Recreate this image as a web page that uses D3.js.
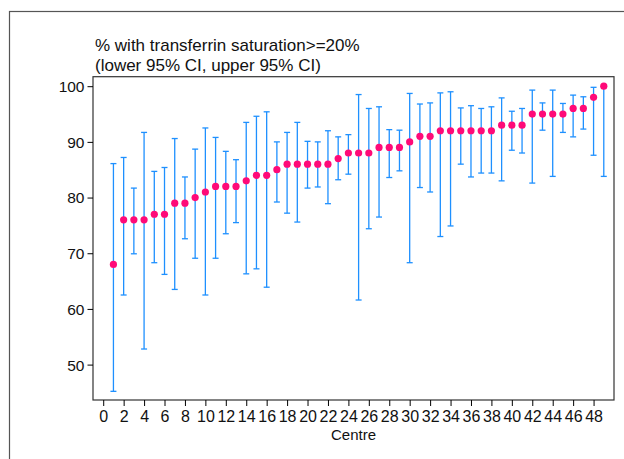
<!DOCTYPE html>
<html>
<head>
<meta charset="utf-8">
<script src="https://cdn.jsdelivr.net/npm/d3@7"></script>
<style>
  body { margin: 0; background: #fff; }
  svg text { font-family: "Liberation Sans", Arial, sans-serif; fill: #111; }
</style>
</head>
<body>
<div id="chart"></div>
<script>
// centre numbers, estimate and 95% CI bounds
let centres = d3.range(1, 50)
let pct = [68,76,76,76,77,77,79,79,80,81,82,82,82,83,84,84,85,86,86,86,86,86,87,88,88,88,89,89,89,90,
           91,91,92,92,92,92,92,92,93,93,93,95,95,95,95,96,96,98,100]
let lower = [45.2,62.5,69.9,52.8,68.3,66.2,63.5,72.6,69.1,62.5,69.1,73.5,75.5,66.3,67.2,63.9,79.2,77.2,75.6,81.7,
             81.9,78.9,83.2,84.2,61.6,74.4,76.5,83.6,84.8,68.3,81.8,81.0,73.0,74.9,86.0,83.7,84.4,84.4,83.0,88.5,
             88.0,82.6,92.1,83.8,91.7,90.9,92.3,87.6,83.8]
let upper = [86.1,87.2,81.7,91.7,84.7,85.4,90.6,83.7,88.7,92.5,90.8,88.3,86.8,93.5,94.6,95.4,90.0,91.7,93.5,90.1,
             90.0,92.0,90.9,91.3,98.5,96.0,96.3,92.2,92.1,98.7,96.8,97.0,98.8,99.0,96.1,96.5,96.0,96.3,97.9,95.5,
             96.0,99.3,97.0,99.3,96.9,98.4,98.1,99.8,100]
let xTicks = d3.range(0, 50, 2)
let yTicks = [50, 60, 70, 80, 90, 100]

let width = 624, height = 459
let box = { left: 93, right: 614, top: 76.7, bottom: 400 }

let svg = d3.select("#chart").append("svg")
    .attr("width", width)
    .attr("height", height)

let x = d3.scaleLinear().domain([-1, 50]).range([box.left, box.right])
let y = d3.scaleLinear().domain([50, 100]).range([364.6, 86.2])

// outer graph frame
svg.append("rect")
    .attr("x", 9.5).attr("y", 11.5)
    .attr("width", 700).attr("height", 600)
    .attr("fill", "none").attr("stroke", "#555").attr("stroke-width", 1.2)

// plot region
svg.append("rect")
    .attr("x", box.left).attr("y", box.top)
    .attr("width", box.right - box.left).attr("height", box.bottom - box.top)
    .attr("fill", "none").attr("stroke", "#333").attr("stroke-width", 1.2)

let yAxis = svg.append("g")
    .attr("transform", `translate(${box.left},0)`)
    .call(d3.axisLeft(y).tickValues(yTicks).tickSize(5.5).tickPadding(3))
yAxis.select(".domain").remove()
yAxis.selectAll("text").attr("font-size", 15.5).attr("dy", "0.35em")
    .style("font-family", "Liberation Sans, Arial, sans-serif")

let xAxis = svg.append("g")
    .attr("transform", `translate(0,${box.bottom})`)
    .call(d3.axisBottom(x).tickValues(xTicks).tickSize(6).tickPadding(5))
xAxis.select(".domain").remove()
xAxis.selectAll("text").attr("font-size", 16)
    .style("font-family", "Liberation Sans, Arial, sans-serif")

svg.append("text")
    .attr("x", (box.left + box.right) / 2)
    .attr("y", 440)
    .attr("text-anchor", "middle")
    .attr("font-size", 15)
    .text("Centre")

svg.append("text").attr("x", 95).attr("y", 50.5).attr("font-size", 17)
    .text("% with transferrin saturation>=20%")
svg.append("text").attr("x", 95).attr("y", 71).attr("font-size", 17)
    .text("(lower 95% CI, upper 95% CI)")

let rows = centres.map((c, i) => ({ c: c, p: pct[i], lo: lower[i], hi: upper[i] }))

let bars = svg.append("g")
    .attr("stroke", "#1e90ff")
    .attr("stroke-width", 1.3)
    .selectAll("g")
    .data(rows)
    .enter().append("g")

bars.append("line")
    .attr("x1", d => x(d.c)).attr("x2", d => x(d.c))
    .attr("y1", d => y(d.lo)).attr("y2", d => y(d.hi))
bars.append("line")
    .attr("x1", d => x(d.c) - 3).attr("x2", d => x(d.c) + 3)
    .attr("y1", d => y(d.lo)).attr("y2", d => y(d.lo))
bars.append("line")
    .attr("x1", d => x(d.c) - 3).attr("x2", d => x(d.c) + 3)
    .attr("y1", d => y(d.hi)).attr("y2", d => y(d.hi))

svg.append("g")
    .selectAll("circle")
    .data(rows)
    .enter().append("circle")
    .attr("cx", d => x(d.c))
    .attr("cy", d => y(d.p))
    .attr("r", 3.6)
    .attr("fill", "#ff0a78")
</script>
</body>
</html>
